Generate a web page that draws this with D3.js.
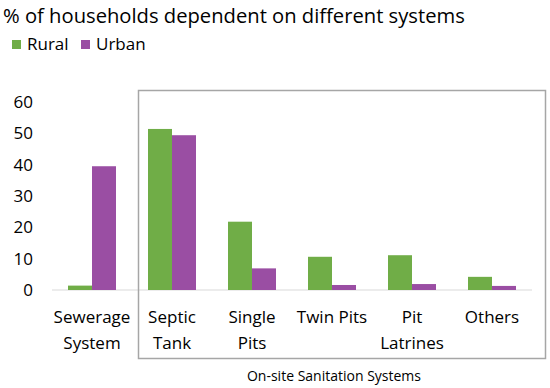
<!DOCTYPE html>
<html>
<head>
<meta charset="utf-8">
<script src="https://d3js.org/d3.v7.min.js"></script>
<style>
  body { margin: 0; background: #fff; }
  text { font-family: "Open Sans", "Noto Sans", sans-serif; fill: #000; }
</style>
</head>
<body>
<script>
// chart data
var categories = [["Sewerage", "System"], ["Septic", "Tank"], ["Single", "Pits"], ["Twin Pits"], ["Pit", "Latrines"], ["Others"]];
var series = ["Rural", "Urban"];
var rural = [1.4, 51.4, 21.8, 10.6, 11.1, 4.2];
var urban = [39.5, 49.4, 6.9, 1.6, 1.9, 1.3];
var yTicks = [0, 10, 20, 30, 40, 50, 60];
var colors = {Rural: "#70ad47", Urban: "#9a4ea3"};

var W = 550, H = 388;
var svg = d3.select("body").append("svg").attr("width", W).attr("height", H);

var x = d3.scaleBand().domain(d3.range(categories.length)).range([52, 532])
    .paddingInner(0.4).paddingOuter(0.2);
var x1 = d3.scaleBand().domain(series).range([0, x.bandwidth()]);
var y = d3.scaleLinear().domain([0, 60]).range([290, 102]);

// title
svg.append("text").attr("x", 3).attr("y", 23)
    .style("font-size", "20.2px").text("% of households dependent on different systems");

// legend
var leg = svg.append("g");
var legX = [12, 81];
series.forEach(function(s, i){
    leg.append("rect").attr("x", legX[i]).attr("y", 40).attr("width", 9).attr("height", 9)
        .attr("fill", colors[s]);
    leg.append("text").attr("x", legX[i] + 15).attr("y", 50)
        .style("font-size", "17px").text(s);
});

// baseline
svg.append("line").attr("x1", 52).attr("x2", 532).attr("y1", y(0)).attr("y2", y(0))
    .attr("stroke", "#d9d9d9").attr("stroke-width", 1);

// y axis labels
svg.selectAll(".ytick").data(yTicks).enter().append("text")
    .attr("class", "ytick")
    .attr("x", 33).attr("y", function(d){ return y(d) + 6; })
    .attr("text-anchor", "end").style("font-size", "17px")
    .text(function(d){ return d; });

// bars
var data = categories.map(function(c, i){ return {i: i, Rural: rural[i], Urban: urban[i]}; });
var groups = svg.selectAll(".grp").data(data).enter().append("g")
    .attr("transform", function(d){ return "translate(" + x(d.i) + ",0)"; });
groups.selectAll("rect").data(function(d){ return series.map(function(s){ return {s: s, v: d[s]}; }); })
    .enter().append("rect")
    .attr("x", function(d){ return x1(d.s); })
    .attr("width", x1.bandwidth())
    .attr("y", function(d){ return y(d.v); })
    .attr("height", function(d){ return y(0) - y(d.v); })
    .attr("fill", function(d){ return colors[d.s]; });

// category labels
categories.forEach(function(lines, i){
    var t = svg.append("text").attr("text-anchor", "middle").style("font-size", "17px");
    lines.forEach(function(l, k){
        t.append("tspan").attr("x", x(i) + x.bandwidth() / 2).attr("y", 323 + k * 26).text(l);
    });
});

// on-site box
svg.append("rect").attr("x", 138.5).attr("y", 90.5).attr("width", 407).attr("height", 268)
    .attr("fill", "none").attr("stroke", "#a6a6a6").attr("stroke-width", 1.5);
svg.append("text").attr("x", 334).attr("y", 381).attr("text-anchor", "middle")
    .style("font-size", "14px").text("On-site Sanitation Systems");
</script>
</body>
</html>
